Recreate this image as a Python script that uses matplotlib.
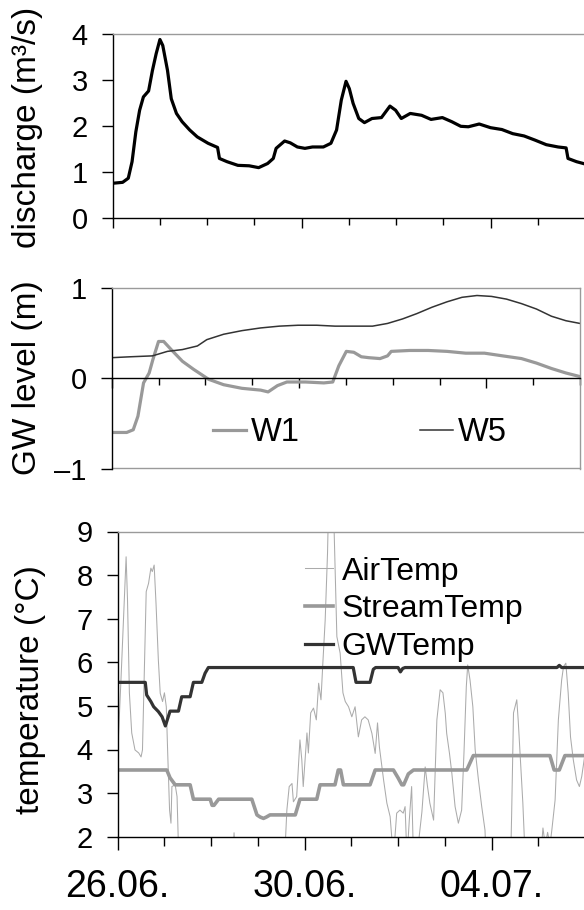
import matplotlib
matplotlib.use("Agg")
import matplotlib.pyplot as plt
from matplotlib.ticker import MultipleLocator, FixedLocator, FixedFormatter, NullFormatter

plt.rcParams['font.family'] = ['Liberation Sans', 'DejaVu Sans']

# ---------------- data (time in days since 26.06. 00:00) ----------------
q_day = [0, 0.21, 0.33, 0.41, 0.49, 0.57, 0.65, 0.76, 0.84, 0.92, 1.0, 1.06, 1.16, 1.24, 1.35,
         1.47, 1.63, 1.79, 2.02, 2.22, 2.26, 2.42, 2.65, 2.89, 3.09, 3.28, 3.4, 3.46, 3.64, 3.76,
         3.91, 4.07, 4.23, 4.46, 4.62, 4.74, 4.84, 4.94, 5.01, 5.09, 5.21, 5.33, 5.49, 5.69, 5.87,
         5.99, 6.11, 6.3, 6.54, 6.74, 6.98, 7.18, 7.37, 7.53, 7.76, 8.0, 8.24, 8.47, 8.71, 8.94,
         9.18, 9.43, 9.6, 9.64, 9.82, 10.0]
q_val = [0.75, 0.77, 0.86, 1.22, 1.87, 2.34, 2.63, 2.76, 3.2, 3.57, 3.88, 3.75, 3.21, 2.59, 2.27,
         2.09, 1.91, 1.76, 1.62, 1.53, 1.29, 1.22, 1.14, 1.13, 1.09, 1.18, 1.29, 1.51, 1.67, 1.63,
         1.54, 1.51, 1.54, 1.54, 1.62, 1.91, 2.56, 2.97, 2.81, 2.49, 2.16, 2.07, 2.16, 2.18, 2.43,
         2.34, 2.16, 2.27, 2.23, 2.14, 2.18, 2.09, 1.99, 1.98, 2.04, 1.96, 1.92, 1.83, 1.78, 1.69,
         1.59, 1.54, 1.52, 1.29, 1.22, 1.17]

w5_day = [0, 0.4, 0.87, 1.19, 1.51, 1.83, 2.03, 2.39, 2.78, 3.18, 3.58, 3.98, 4.38, 4.77, 5.17,
          5.57, 5.89, 6.21, 6.52, 6.84, 7.16, 7.48, 7.8, 8.11, 8.43, 8.75, 9.07, 9.39, 9.7, 10]
w5_val = [0.23, 0.24, 0.25, 0.30, 0.32, 0.36, 0.43, 0.49, 0.53, 0.56, 0.58, 0.59, 0.59, 0.58, 0.58,
          0.58, 0.61, 0.66, 0.72, 0.79, 0.85, 0.90, 0.92, 0.91, 0.88, 0.83, 0.77, 0.69, 0.64, 0.61]

w1_day = [0, 0.32, 0.46, 0.56, 0.68, 0.8, 0.88, 1.0, 1.11, 1.27, 1.51, 1.75, 2.07, 2.39, 2.78,
          3.18, 3.34, 3.54, 3.74, 4.14, 4.53, 4.72, 4.85, 5.01, 5.17, 5.33, 5.49, 5.73, 5.89, 5.97,
          6.36, 6.76, 7.16, 7.56, 7.96, 8.35, 8.75, 9.07, 9.39, 9.7, 10]
w1_val = [-0.6, -0.6, -0.57, -0.42, -0.05, 0.06, 0.21, 0.41, 0.41, 0.32, 0.19, 0.10, -0.01, -0.07,
          -0.11, -0.13, -0.15, -0.08, -0.04, -0.04, -0.05, -0.04, 0.14, 0.30, 0.29, 0.24, 0.23,
          0.22, 0.25, 0.30, 0.31, 0.31, 0.30, 0.28, 0.28, 0.25, 0.22, 0.17, 0.11, 0.06, 0.02]

air_day = [0, 0.07, 0.18, 0.21, 0.25, 0.3, 0.37, 0.45, 0.5, 0.53, 0.57, 0.61, 0.66, 0.71, 0.74,
           0.78, 0.82, 0.87, 0.91, 0.96, 1.0, 1.04, 1.07, 1.11, 1.14, 1.16, 1.23, 1.27, 1.32,
           2.44, 2.49, 2.54, 3.55, 3.62, 3.67, 3.73, 3.76, 3.83, 3.9, 3.94, 3.97, 4.05, 4.08, 4.13,
           4.19, 4.25, 4.3, 4.35, 4.39, 4.44, 4.49, 4.53, 4.58, 4.62, 4.69, 4.76, 4.82, 4.87, 4.94,
           5.01, 5.08, 5.15, 5.22, 5.29, 5.36, 5.44, 5.51, 5.56, 5.6, 5.69, 5.76, 5.83, 5.9, 5.97,
           6.04, 6.11, 6.15, 6.19, 6.24, 6.29, 6.33, 6.4, 6.51, 6.58, 6.63, 6.68, 6.76, 6.83, 6.9,
           6.96, 7.01, 7.04, 7.1, 7.15, 7.22, 7.29, 7.36, 7.41, 7.46, 7.49, 7.54, 7.6, 7.65, 7.72,
           7.79, 7.86, 7.9, 8.4, 8.43, 8.47, 8.54, 8.57, 8.61, 8.67, 8.72, 9.05, 9.1, 9.15, 9.2,
           9.25, 9.29, 9.36, 9.43, 9.5, 9.54, 9.59, 9.64, 9.69, 9.75, 9.82, 9.88, 9.93, 9.98, 10.0]
air_val = [3.92, 5.6, 8.42, 7.43, 5.3, 4.38, 3.99, 3.92, 3.83, 3.99, 5.82, 7.62, 7.81, 8.16, 8.08,
           8.23, 7.35, 6.05, 5.29, 5.1, 5.3, 4.98, 3.92, 2.61, 2.31, 3.15, 3.19, 2.92, 1.0,
           1.0, 2.09, 1.0, 1.0, 2.61, 3.15, 3.22, 2.8, 2.92, 4.22, 3.76, 3.15, 4.38, 3.92, 4.84,
           4.95, 4.68, 5.52, 5.14, 5.98, 6.97, 8.5, 10.5, 10.0, 9.5, 6.59, 6.21, 5.3, 5.1, 4.98,
           4.75, 4.98, 4.29, 4.68, 4.75, 4.68, 4.37, 3.91, 4.61, 4.06, 3.3, 2.77, 2.46, 1.5, 2.54,
           2.61, 2.54, 2.69, 1.5, 2.38, 3.15, 1.5, 1.5, 2.57, 3.6, 3.15, 2.77, 2.38, 4.68, 5.37,
           5.3, 4.83, 4.37, 3.91, 3.46, 2.69, 2.31, 2.61, 3.92, 5.44, 5.94, 5.59, 4.98, 3.99, 3.3,
           2.69, 2.15, 1.0, 1.0, 2.5, 4.84, 5.14, 4.68, 3.92, 2.77, 1.5, 1.5, 2.2, 1.8, 2.1,
           1.8, 2.15, 2.84, 4.68, 5.59, 5.9, 5.98, 5.3, 4.29, 3.76, 3.3, 3.15, 3.38, 3.76, 3.9]

st_day = [0, 1.05, 1.12, 1.23, 1.55, 1.62, 1.98, 2.02, 2.06, 2.16, 2.87, 2.98, 3.05, 3.12, 3.18,
          3.26, 3.8, 3.9, 4.26, 4.33, 4.65, 4.72, 4.77, 4.83, 5.4, 5.51, 5.9, 6.0, 6.08, 6.12,
          6.22, 6.33, 7.47, 7.61, 9.25, 9.34, 9.45, 9.57, 10]
st_val = [3.53, 3.53, 3.35, 3.19, 3.19, 2.86, 2.86, 2.72, 2.72, 2.86, 2.86, 2.5, 2.45, 2.42, 2.45,
          2.5, 2.5, 2.86, 2.86, 3.19, 3.19, 3.53, 3.53, 3.19, 3.19, 3.53, 3.53, 3.35, 3.19, 3.19,
          3.44, 3.53, 3.53, 3.86, 3.86, 3.53, 3.53, 3.86, 3.86]

gw_day = [0, 0.59, 0.62, 0.71, 0.77, 0.87, 0.95, 1.02, 1.12, 1.3, 1.37, 1.55, 1.62, 1.8, 1.87,
          1.94, 5.04, 5.1, 5.4, 5.47, 5.52, 6.0, 6.05, 6.1, 6.15, 9.4, 9.45, 9.5, 10]
gw_val = [5.54, 5.54, 5.25, 5.1, 4.98, 4.87, 4.75, 4.54, 4.88, 4.88, 5.21, 5.21, 5.54, 5.54, 5.75,
          5.88, 5.88, 5.54, 5.54, 5.84, 5.88, 5.88, 5.78, 5.86, 5.88, 5.88, 5.93, 5.88, 5.88]

date_ticks = [0, 4, 8]
date_labels = ["26.06.", "30.06.", "04.07."]

# ---------------- figure ----------------
W, H = 584, 910
fig = plt.figure(figsize=(W / 100, H / 100), dpi=100)

def px_axes(left, right, top, bottom):
    return fig.add_axes([left / W, 1 - bottom / H, (right - left) / W, (bottom - top) / H])

ax1 = px_axes(112.7, 585, 34, 217.7)
ax2 = px_axes(111.7, 580, 288.3, 468.5)
ax3 = px_axes(117.7, 585, 531.5, 836.7)

GRAY_BOX = '#9a9a9a'
TICK_FS = 21

for ax in (ax1, ax2, ax3):
    ax.set_xlim(0, 10)
    ax.xaxis.set_major_locator(FixedLocator(date_ticks))
    ax.xaxis.set_minor_locator(MultipleLocator(1))
    ax.xaxis.set_minor_formatter(NullFormatter())
    ax.spines['top'].set_color(GRAY_BOX)
    ax.spines['right'].set_color(GRAY_BOX)
    ax.spines['left'].set_color('black')
    ax.spines['bottom'].set_color('black')
    for s in ax.spines.values():
        s.set_linewidth(1.0)
    ax.tick_params(axis='y', direction='out', length=8, width=1, labelsize=TICK_FS, pad=10)
    ax.tick_params(axis='x', which='major', direction='out', length=7, width=1)
    ax.tick_params(axis='x', which='minor', direction='out', length=5, width=1)

# top: discharge
ax1.plot(q_day, q_val, color='black', lw=2.3, solid_joinstyle='round')
ax1.set_ylim(0, 4)
ax1.set_yticks([0, 1, 2, 3, 4])
ax1.set_xticklabels([])

# middle: GW level
ax2.plot(w1_day, w1_val, color='#999999', lw=2.3, label='W1')
ax2.plot(w5_day, w5_val, color='#333333', lw=1.1, label='W5')
ax2.set_ylim(-1, 1)
ax2.set_yticks([-1, 0, 1])
ax2.set_yticklabels(['\u20131', '0', '1'])
ax2.spines['bottom'].set_position(('data', 0))
ax2.plot([0, 1], [0, 0], transform=ax2.transAxes, color=GRAY_BOX, lw=1.0, clip_on=False)
ax2.set_xticklabels([])
ax2.legend(loc='center', bbox_to_anchor=(0.53, 0.2), ncol=2, frameon=False,
           fontsize=23.5, handlelength=1.0, handletextpad=0.15, columnspacing=3.7,
           borderpad=0, borderaxespad=0)

# bottom: temperature
ax3.plot(air_day, air_val, color='#ababab', lw=0.75, label='AirTemp')
ax3.plot(st_day, st_val, color='#999999', lw=2.6, label='StreamTemp')
ax3.plot(gw_day, gw_val, color='#333333', lw=2.3, label='GWTemp')
ax3.set_ylim(2, 9)
ax3.set_yticks(range(2, 10))
ax3.tick_params(axis='x', which='major', length=9)
ax3.tick_params(axis='x', which='minor', length=6.5)
ax3.xaxis.set_major_formatter(FixedFormatter(date_labels))
ax3.tick_params(axis='x', which='major', labelsize=27, pad=14)
ax3.legend(loc='upper left', bbox_to_anchor=(0.40, 0.918), frameon=False, fontsize=23,
           handlelength=0.88, handletextpad=0.28, labelspacing=0.24, borderpad=0,
           borderaxespad=0)

# y labels
fig.text(28 / W, 1 - 127 / H, 'discharge (m\u00b3/s)', rotation=90, ha='center', va='center', fontsize=24)
fig.text(28 / W, 1 - 378 / H, 'GW level (m)', rotation=90, ha='center', va='center', fontsize=24)
fig.text(31 / W, 1 - 690 / H, 'temperature (\u00b0C)', rotation=90, ha='center', va='center', fontsize=24)

fig.savefig('out.png', dpi=100)
